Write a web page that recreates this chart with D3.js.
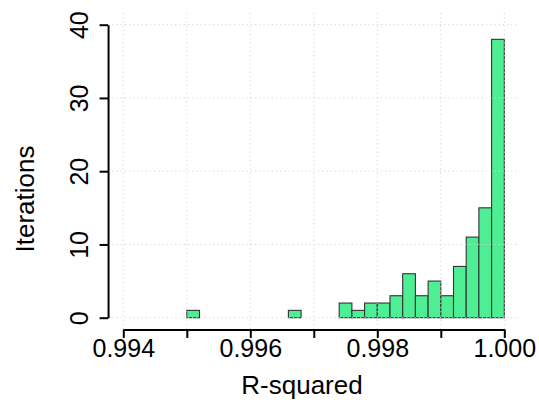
<!DOCTYPE html>
<html>
<head>
<meta charset="utf-8">
<script src="https://cdn.jsdelivr.net/npm/d3@7"></script>
<style>
  body { margin: 0; background: #fff; }
  svg { display: block; }
</style>
</head>
<body>
<script>
// histogram bins of R-squared, width 0.0002, starting at 0.995
const binStarts = [0.9950, 0.9952, 0.9954, 0.9956, 0.9958, 0.9960, 0.9962, 0.9964,
  0.9966, 0.9968, 0.9970, 0.9972, 0.9974, 0.9976, 0.9978, 0.9980, 0.9982, 0.9984,
  0.9986, 0.9988, 0.9990, 0.9992, 0.9994, 0.9996, 0.9998];
const counts = [1, 0, 0, 0, 0, 0, 0, 0, 1, 0, 0, 0, 2, 1, 2, 2, 3, 6, 3, 5, 3, 7, 11, 15, 38];
const binWidth = 0.0002;
const xTicks = [0.994, 0.995, 0.996, 0.997, 0.998, 0.999, 1.000];
const xLabels = ["0.994", "", "0.996", "", "0.998", "", "1.000"];
const yTicks = [0, 10, 20, 30, 40];

const width = 539, height = 405;
const font = "'Liberation Sans', Arial, sans-serif";

const x = d3.scaleLinear().domain([0.994, 1.000]).range([123.3, 504.3]);
const y = d3.scaleLinear().domain([0, 40]).range([317.7, 24.7]);

// plot region (R style 4% expansion)
const px0 = x(0.99376), px1 = x(1.00024);
const py0 = y(-1.6), py1 = y(41.6);

const svg = d3.select("body").append("svg")
  .attr("width", width)
  .attr("height", height)
  .style("font-family", font);

// bars
svg.append("g")
  .selectAll("rect")
  .data(binStarts.map((s, i) => ({ s, c: counts[i] })))
  .join("rect")
  .attr("x", d => x(d.s))
  .attr("y", d => y(d.c))
  .attr("width", d => x(d.s + binWidth) - x(d.s))
  .attr("height", d => y(0) - y(d.c))
  .attr("fill", "#4eee94")
  .attr("stroke", "#333")
  .attr("stroke-width", 1.1);

// grid drawn on top, dotted light gray
const grid = svg.append("g")
  .attr("stroke", "#d3d3d3")
  .attr("stroke-width", 1)
  .attr("stroke-dasharray", "1.2,3");
grid.selectAll(".gx").data(xTicks).join("line")
  .attr("x1", d => x(d)).attr("x2", d => x(d))
  .attr("y1", py1).attr("y2", py0);
grid.selectAll(".gy").data(yTicks).join("line")
  .attr("x1", px0).attr("x2", px1)
  .attr("y1", d => y(d)).attr("y2", d => y(d));

// x axis
const xAxis = svg.append("g")
  .attr("transform", `translate(0,${py0})`)
  .call(d3.axisBottom(x).tickValues(xTicks)
    .tickFormat((d, i) => xLabels[i])
    .tickSize(8.5).tickSizeOuter(0));
xAxis.selectAll("path, line").attr("stroke", "#000").attr("stroke-width", 2);
xAxis.selectAll("text")
  .attr("y", 28).attr("dy", 0)
  .attr("fill", "#000")
  .style("font-family", font)
  .style("font-size", "25px");

// y axis
const yAxis = svg.append("g")
  .attr("transform", `translate(${px0},0)`)
  .call(d3.axisLeft(y).tickValues(yTicks).tickSize(8.5).tickSizeOuter(0));
yAxis.selectAll("path, line").attr("stroke", "#000").attr("stroke-width", 2);
yAxis.selectAll("text")
  .attr("transform", "rotate(-90)")
  .attr("x", 0).attr("y", -20).attr("dy", 0)
  .attr("text-anchor", "middle")
  .attr("fill", "#000")
  .style("font-family", font)
  .style("font-size", "25px");

// axis titles
svg.append("text")
  .attr("x", 302).attr("y", 394)
  .attr("text-anchor", "middle")
  .style("font-size", "26px")
  .text("R-squared");

svg.append("text")
  .attr("transform", "translate(34,199) rotate(-90)")
  .attr("text-anchor", "middle")
  .style("font-size", "26px")
  .text("Iterations");
</script>
</body>
</html>
